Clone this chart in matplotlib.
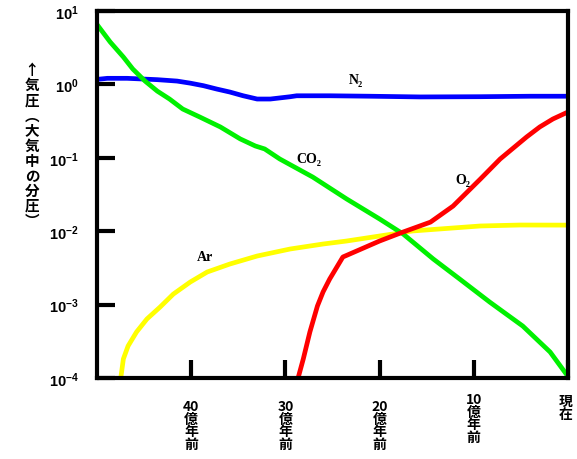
import matplotlib
matplotlib.use("Agg")
import matplotlib.pyplot as plt
import matplotlib.transforms as mtransforms

plt.rcParams['mathtext.fontset'] = 'custom'
plt.rcParams['mathtext.rm'] = 'Liberation Sans:bold'
plt.rcParams['mathtext.bf'] = 'Liberation Sans:bold'
plt.rcParams['mathtext.it'] = 'Liberation Sans:bold'

CJK = ['Noto Sans CJK JP', 'DejaVu Sans']
SERIF = ['Liberation Serif', 'DejaVu Serif']

# time axis: 億年前 (0 = present)
n2_t = [50, 48.9, 46.8, 43.6, 41.5, 40.1, 38.7, 37.3, 35.9, 34.5, 33.0, 31.6,
        29.5, 28.8, 25.3, 21.0, 15.7, 9.3, 4.0, 0]
n2_p = [1.17, 1.21, 1.21, 1.16, 1.11, 1.04, 0.96, 0.865, 0.787, 0.701, 0.632,
        0.632, 0.679, 0.70, 0.70, 0.69, 0.675, 0.68, 0.69, 0.69]

co2_t = [49.9, 48.6, 47.2, 46.2, 44.9, 43.6, 42.3, 40.9, 39.1, 36.9, 34.8,
         33.2, 32.2, 30.6, 27.1, 23.5, 20.0, 17.5, 14.3, 11.5, 8.3, 4.8, 1.9, 0]
co2_p = [6.3, 3.78, 2.36, 1.62, 1.11, 0.81, 0.632, 0.462, 0.36, 0.263, 0.181,
         0.145, 0.132, 0.0964, 0.0547, 0.0275, 0.01467, 0.00916, 0.00418,
         0.00223, 0.00108, 0.00051, 0.000226, 0.000105]

o2_t = [28.7, 28.1, 27.4, 26.6, 26.0, 25.3, 23.9, 20.0, 17.5, 14.6, 12.2,
        9.3, 7.2, 4.4, 3.0, 1.6, 0]
o2_p = [0.95e-4, 1.82e-4, 4.24e-4, 9.57e-4, 1.49e-3, 2.23e-3, 4.45e-3,
        7.35e-3, 9.75e-3, 0.0133, 0.0220, 0.0514, 0.0964, 0.192, 0.263,
        0.338, 0.421]

ar_t = [47.5, 47.2, 46.7, 45.8, 44.7, 43.3, 41.9, 40.1, 38.3, 35.9, 33.0,
        29.5, 26.0, 23.5, 16.5, 9.3, 5.1, 0]
ar_p = [0.95e-4, 1.82e-4, 2.73e-4, 4.24e-4, 6.37e-4, 9.27e-4, 1.39e-3,
        2.03e-3, 2.78e-3, 3.57e-3, 4.59e-3, 5.72e-3, 6.69e-3, 7.35e-3,
        0.01007, 0.01178, 0.01214, 0.0121]

x_ticks = [40, 30, 20, 10, 0]
x_labels = ['40\n億\n年\n前', '30\n億\n年\n前', '20\n億\n年\n前',
            '10\n億\n年\n前', '現\n在']
y_ticks = [1e1, 1e0, 1e-1, 1e-2, 1e-3, 1e-4]
y_labels = [r'$10^{1}$', r'$10^{0}$', r'$10^{-1}$', r'$10^{-2}$',
            r'$10^{-3}$', r'$10^{-4}$']

fig = plt.figure(figsize=(5.77, 4.60), dpi=100)
ax = fig.add_axes([97 / 577, 1 - 379 / 460, 471 / 577, 367 / 460])

lw = 3.4
ax.plot(n2_t, n2_p, color='#0000ff', lw=lw)
ax.plot(ar_t, ar_p, color='#ffff00', lw=lw)
ax.plot(co2_t, co2_p, color='#00f000', lw=lw)
ax.plot(o2_t, o2_p, color='#ff0000', lw=lw)

ax.set_yscale('log')
ax.set_xlim(50, 0)
ax.set_ylim(1e-4, 1e1)

ax.minorticks_off()
ax.set_yticks(y_ticks)
ax.set_yticklabels(y_labels, fontsize=10.5)
ax.set_xticks(x_ticks)
ax.set_xticklabels([])
ax.tick_params(direction='in', length=13, width=3, color='black')
ax.tick_params(axis='y', pad=13)
for s in ax.spines.values():
    s.set_linewidth(3)

# vertical stacked time labels
trans = mtransforms.blended_transform_factory(ax.transData, ax.transAxes)
for t, lab in zip(x_ticks, x_labels):
    y0 = {10: -0.038, 0: -0.044}.get(t, -0.057)
    xx = t if t != 0 else 0.3
    ax.text(xx, y0, lab, transform=trans, ha='center', va='top',
            fontsize=10, fontweight='bold', family=CJK, linespacing=0.88)

# vertical axis title
fig.text(32 / 577, 1 - 62 / 460, '\n'.join('↑気圧︵大気中の分圧︶'),
         ha='center', va='top', fontsize=10.5, fontweight='bold',
         family=CJK, linespacing=0.93)

# curve names
lab_kw = dict(ha='center', va='center', fontsize=10, fontweight='bold',
              family=SERIF)
ax.text(22.5, 1.15, 'N₂', **lab_kw)
ax.text(27.5, 0.0964, 'CO₂', **lab_kw)
ax.text(11.15, 0.0499, 'O₂', **lab_kw)
ax.text(38.5, 4.46e-3, 'Ar', **lab_kw)

fig.savefig('out.png', dpi=100)
